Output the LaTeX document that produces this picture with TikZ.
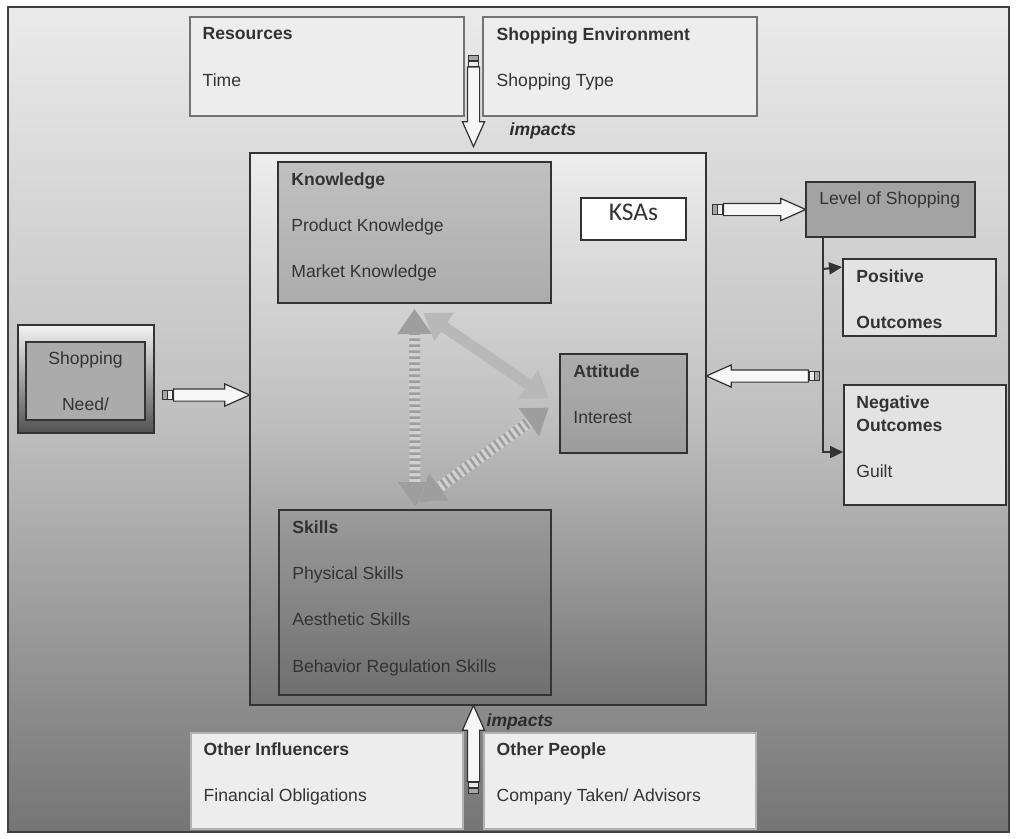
\documentclass[tikz,border=0pt]{standalone}
\usepackage{fontspec}
\setmainfont{Liberation Sans}
\newfontfamily\ksafont{Carlito}
\usetikzlibrary{arrows.meta,positioning,calc,fit,shapes.arrows}
\definecolor{Ink}{HTML}{2B2B2B}
\definecolor{Rule}{HTML}{333333}

% hollow block arrow with the little tail bits, from #1 to #2, named #3
\newcommand\hollowlink[3]{%
  \path let \p1=(#1), \p2=(#2), \n1={atan2(\y2-\y1,\x2-\x1)}, \n2={veclen(\x2-\x1,\y2-\y1)} in
    node[hollowarrow, minimum height=\n2, rotate=\n1, anchor=tail] (#3) at (\p1) {}
    node[tailbit, fill=black!8, rotate=\n1, anchor=east] (#3-bita) at (\p1) {}
    node[tailbit, rotate=\n1, xshift=-0.11cm, anchor=east] (#3-bitb) at (\p1) {};}

\begin{document}
\begin{tikzpicture}[x=0.02cm,y=-0.02cm,
  bgframe/.style={draw=black!75,line width=.9pt,top color=black!8,bottom color=black!54,middle color=black!25},
  framebox/.style={draw=black!55,line width=.7pt,fill=black!7,inner sep=0pt},
  darkbox/.style={draw=Rule,line width=1.1pt,inner sep=0pt},
  ksabox/.style={darkbox,fill=black,fill opacity=.18},
  boxtext/.style={anchor=north west,inner sep=0pt,align=left,text=black!80,font=\fontsize{10}{13.2}\selectfont},
  impacts/.style={anchor=west,inner sep=0pt,text=Ink,font=\fontsize{10}{12}\selectfont\bfseries\itshape},
  hollowarrow/.style={single arrow,draw=Rule,line width=.7pt,fill=black!3,inner xsep=0pt,inner ysep=0.11cm,
    single arrow head extend=0.1cm,single arrow tip angle=48,minimum width=0.42cm},
  tailbit/.style={draw=Rule,line width=.5pt,fill=black!35,inner sep=0pt,minimum width=0.1cm,minimum height=0.19cm},
  ksalink/.style={line width=0.22cm,draw=black!28,{Triangle[length=0.5cm,width=0.66cm]}-{Triangle[length=0.5cm,width=0.66cm]}},
  striped/.style={draw=black!18,postaction={draw=black!38,line width=0.22cm,dash pattern=on 0.05cm off 0.07cm}},
  branchtip/.style={draw=Rule,line width=1.1pt,-{Triangle[length=0.26cm,width=0.24cm]}}]
  \useasboundingbox (0,0) rectangle (1016,838);
  \path[bgframe] (8,7) rectangle (1009,832);

  % top row
  \node[framebox,fit={(190,17) (464,116)}] (res) {};
  \node[framebox,fit={(483,17) (757,116)}] (env) {};
  \node[boxtext] (restext) at ($(res.north west)+(13,11)$) {\textbf{Resources}\\[13.2pt]Time};
  \node[boxtext] (envtext) at ($(env.north west)+(14,11)$) {\textbf{Shopping Environment}\\[13.2pt]Shopping Type};

  % main box and KSAs
  \node[darkbox,fit={(250,153) (706,705)},top color=black!7,bottom color=black!54,middle color=black!26] (main) {};
  \node[ksabox,fit={(278,162) (551,303)}] (know) {};
  \node[ksabox,fill opacity=.07,fit={(279,510) (551,695)}] (skill) {};
  \node[ksabox,fill opacity=.14,fit={(560,354) (687,453)}] (att) {};
  \node[darkbox,fill=white,fit={(581,198) (686,240)},text=black!80,font=\ksafont\fontsize{14.5}{16}\selectfont] (ksas) {\raisebox{-0.08cm}{KSAs}};
  \node[boxtext] (knowtext) at ($(know.north west)+(14,11)$) {\textbf{Knowledge}\\[13.2pt]Product Knowledge\\[13.2pt]Market Knowledge};
  \node[boxtext] (skilltext) at ($(skill.north west)+(14,11)$) {\textbf{Skills}\\[13.2pt]Physical Skills\\[13.2pt]Aesthetic Skills\\[13.2pt]Behavior Regulation Skills};
  \node[boxtext] (atttext) at ($(att.north west)+(14,11)$) {\textbf{Attitude}\\[13.2pt]Interest};

  \draw[ksalink,striped] ($(know.south)+(0,5)$) -- ($(skill.north)+(0,-2)$);
  \draw[ksalink] ($(know.south)+(9,9)$) -- ($(att.west)+(-10,-5)$);
  \draw[ksalink,striped] ($(skill.north)+(4,-7)$) -- ($(att.west)+(-10,4)$);

  % shopping need
  \node[darkbox,top color=black!5,bottom color=black!68,fit={(18,325) (154,433)}] (need) {};
  \node[darkbox,fill=black!33,fit={(26,342) (145,420)}] (needin) {};
  \node[boxtext,anchor=center,align=center] (needtext) at (needin.center) {Shopping\\[13.2pt]Need/};

  % outcomes
  \node[darkbox,fill=black!36,fit={(806,182) (975,237)}] (los) {};
  \node[darkbox,fill=black!11,fit={(843,259) (996,336)}] (pos) {};
  \node[darkbox,fill=black!11,fit={(844,385) (1006,505)}] (neg) {};
  \node[boxtext] (lostext) at ($(los.north west)+(14,10)$) {Level of Shopping};
  \node[boxtext] (postext) at ($(pos.north west)+(14,11)$) {\textbf{Positive}\\[13.2pt]\textbf{Outcomes}};
  \node[boxtext] (negtext) at ($(neg.north west)+(13,11)$) {\textbf{Negative}\\\textbf{Outcomes}\\[13.2pt]Guilt};

  \coordinate (trunk) at ($(los.south west)+(18,0)$);
  \draw[branchtip] (trunk) |- ($(neg.north west)+(0,68)$);
  \draw[branchtip] ($(trunk)+(0,31)$) -- ($(pos.north west)+(0,9)$);

  % bottom row
  \node[framebox,draw=black!30,fit={(191,733) (463,829)}] (oinf) {};
  \node[framebox,draw=black!30,fit={(484,733) (756,829)}] (opeople) {};
  \node[boxtext] (oinftext) at ($(oinf.north west)+(13,10)$) {\textbf{Other Influencers}\\[13.2pt]Financial Obligations};
  \node[boxtext] (opeopletext) at ($(opeople.north west)+(13,10)$) {\textbf{Other People}\\[13.2pt]Company Taken/ Advisors};

  % block arrows
  \coordinate (topgap) at ($(res.north east)!.5!(env.north west)$);
  \coordinate (toptail) at ($(topgap)+(0,50)$);
  \coordinate (toptip) at ($(topgap |- main.north)+(0,-6)$);
  \coordinate (needtail) at ($(need.east)+(18,16)$);
  \coordinate (needtip) at (main.west |- needtail);
  \coordinate (lostail) at ($(main.east |- los.west)+(16,0)$);
  \coordinate (backtail) at ($(main.east)+(102,-53)$);
  \coordinate (backtip) at (main.east |- backtail);
  \coordinate (botgap) at ($(oinf.north east)!.5!(opeople.north west)$);
  \coordinate (bottail) at ($(botgap)+(0,50)$);
  \coordinate (bottip) at (botgap |- main.south);
  \hollowlink{toptail}{toptip}{toparrow}
  \hollowlink{needtail}{needtip}{needarrow}
  \hollowlink{lostail}{los.west}{losarrow}
  \hollowlink{backtail}{backtip}{backarrow}
  \hollowlink{bottail}{bottip}{botarrow}

  \node[impacts] (impacttop) at ($(env.south west)+(27,14)$) {impacts};
  \node[impacts] (impactbot) at ($(opeople.north west)+(3,-10)$) {impacts};
\end{tikzpicture}
\end{document}
